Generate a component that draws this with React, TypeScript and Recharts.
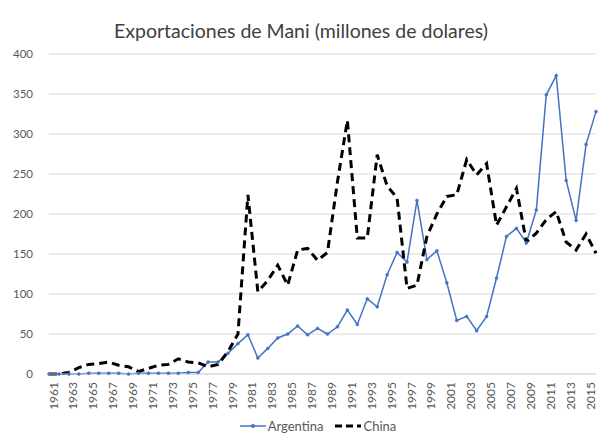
import { LineChart, Line, XAxis, YAxis, CartesianGrid, Legend } from "recharts";

const years = [
  1961, 1962, 1963, 1964, 1965, 1966, 1967, 1968, 1969, 1970,
  1971, 1972, 1973, 1974, 1975, 1976, 1977, 1978, 1979, 1980,
  1981, 1982, 1983, 1984, 1985, 1986, 1987, 1988, 1989, 1990,
  1991, 1992, 1993, 1994, 1995, 1996, 1997, 1998, 1999, 2000,
  2001, 2002, 2003, 2004, 2005, 2006, 2007, 2008, 2009, 2010,
  2011, 2012, 2013, 2014, 2015, 2016,
];

const argentina = [
  0, 0, 0, 0, 1, 1, 1, 1, 0, 1,
  1, 1, 1, 1, 2, 2, 15, 15, 26, 38,
  49, 20, 32, 45, 50, 60, 49, 57, 50, 59,
  80, 62, 94, 84, 124, 152, 140, 217, 143, 154,
  114, 67, 72, 54, 72, 120, 172, 182, 164, 205,
  349, 373, 242, 192, 287, 328,
];

const china = [
  0, 0, 2, 8, 12, 13, 15, 11, 9, 3,
  7, 11, 12, 19, 15, 14, 9, 12, 28, 50,
  224, 103, 117, 136, 111, 155, 157, 142, 152, 240,
  317, 170, 170, 274, 235, 220, 107, 111, 172, 200,
  222, 224, 268, 249, 263, 186, 209, 232, 165, 176,
  193, 203, 165, 155, 175, 151,
];

const yTicks = [0, 50, 100, 150, 200, 250, 300, 350, 400];

const data = years.map((y, i) => ({
  year: String(y),
  Argentina: argentina[i],
  China: china[i],
}));

const FONT = "Lato, 'Open Sans', sans-serif";

function LegendBox() {
  return (
    <div style={{ display: "flex", justifyContent: "center", alignItems: "center", fontFamily: FONT, fontSize: 13, color: "#595959", paddingLeft: 40 }}>
      <svg width={26} height={10}>
        <line x1={0} y1={5} x2={26} y2={5} stroke="#4472C4" strokeWidth={1.5} />
        <circle cx={13} cy={5} r={2} fill="#4472C4" />
      </svg>
      <span style={{ marginLeft: 2, marginRight: 12 }}>Argentina</span>
      <svg width={26} height={10}>
        <line x1={0} y1={5} x2={26} y2={5} stroke="#000" strokeWidth={3} strokeDasharray="7 4" />
      </svg>
      <span style={{ marginLeft: 2 }}>China</span>
    </div>
  );
}

export default function App() {
  return (
    <div style={{ position: "absolute", top: 0, left: 0, width: 602, height: 438, background: "#fff" }}>
      <div
        style={{
          position: "absolute",
          top: 19,
          left: 0,
          width: 602,
          textAlign: "center",
          fontFamily: FONT,
          fontSize: 19.5,
          color: "#404040",
        }}
      >
        Exportaciones de Mani (millones de dolares)
      </div>
      <LineChart width={602} height={438} data={data} margin={{ top: 54, right: 6, left: 0, bottom: 0 }}>
        <CartesianGrid vertical={false} stroke="#d9d9d9" />
        <XAxis
          dataKey="year"
          interval={1}
          angle={-90}
          textAnchor="end"
          height={44}
          tickLine={false}
          stroke="#d9d9d9"
          tick={{ fill: "#595959", fontSize: 12, fontFamily: FONT, dy: -4 }}
          tickMargin={6}
        />
        <YAxis
          domain={[0, 400]}
          ticks={yTicks}
          width={49}
          axisLine={false}
          tickLine={false}
          tickSize={0}
          tickMargin={16}
          tick={{ fill: "#595959", fontSize: 11.5, fontFamily: FONT }}
        />
        <Legend verticalAlign="bottom" height={20} content={() => <LegendBox />} />
        <Line
          type="linear"
          dataKey="Argentina"
          stroke="#4472C4"
          strokeWidth={1.5}
          dot={{ r: 1.5, fill: "#4472C4", stroke: "#4472C4", strokeWidth: 0.5 }}
          isAnimationActive={false}
        />
        <Line
          type="linear"
          dataKey="China"
          stroke="#000000"
          strokeWidth={3}
          strokeDasharray="8 5"
          dot={false}
          isAnimationActive={false}
        />
      </LineChart>
    </div>
  );
}
